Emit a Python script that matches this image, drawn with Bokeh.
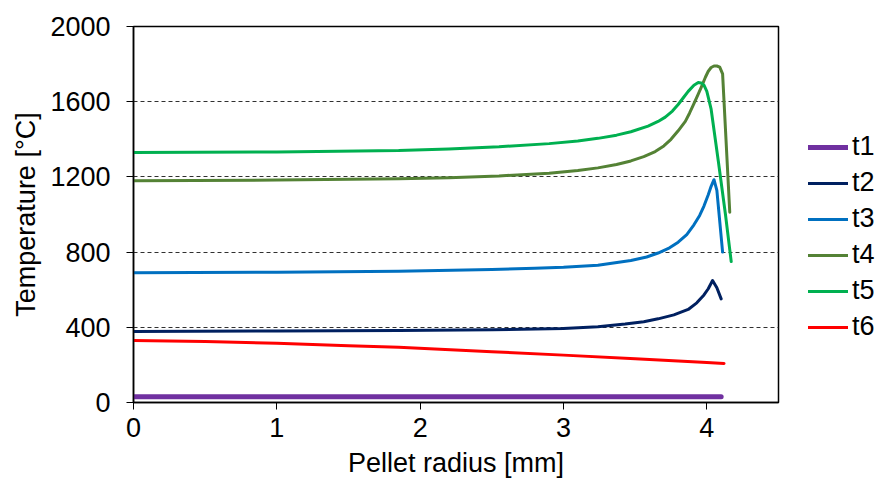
from bokeh.plotting import figure
from bokeh.models import Legend, LegendItem, FixedTicker, Range1d
from bokeh.embed import file_html
from bokeh.resources import INLINE

# ---- data ----
r_t1 = [0.0, 1.0, 2.0, 3.0, 4.0, 4.10]
T_t1 = [30, 30, 30, 30, 30, 30]

r_t2 = [0.0, 1.0, 1.85, 2.5, 3.0, 3.24, 3.43, 3.56, 3.66, 3.77, 3.87, 3.93, 3.98, 4.01, 4.04, 4.07, 4.10]
T_t2 = [378, 380, 383, 387, 394, 403, 417, 430, 445, 466, 495, 530, 572, 605, 649, 610, 551]

r_t3 = [0.0, 1.0, 1.85, 2.5, 2.8, 3.0, 3.24, 3.47, 3.58, 3.66, 3.74, 3.80, 3.86, 3.91, 3.95, 3.98, 4.01, 4.03, 4.05, 4.07, 4.11]
T_t3 = [690, 693, 698, 708, 714, 719, 730, 755, 774, 795, 823, 853, 893, 945, 995, 1045, 1105, 1150, 1185, 1128, 800]

r_t4 = [0.0, 1.0, 1.85, 2.2, 2.55, 2.9, 3.1, 3.24, 3.37, 3.47, 3.56, 3.64, 3.70, 3.75, 3.80, 3.85, 3.88, 3.91, 3.94, 3.96, 3.99, 4.01, 4.03, 4.05, 4.07, 4.09, 4.11, 4.16]
T_t4 = [1180, 1183, 1190, 1196, 1205, 1220, 1234, 1248, 1266, 1285, 1308, 1335, 1365, 1400, 1445, 1495, 1540, 1590, 1640, 1675, 1730, 1762, 1782, 1790, 1790, 1784, 1748, 1012]

r_t5 = [0.0, 1.0, 1.85, 2.2, 2.55, 2.9, 3.1, 3.24, 3.37, 3.47, 3.59, 3.66, 3.71, 3.76, 3.80, 3.84, 3.87, 3.91, 3.94, 3.96, 3.98, 4.00, 4.03, 4.08, 4.13, 4.17]
T_t5 = [1330, 1333, 1340, 1349, 1360, 1377, 1391, 1405, 1422, 1440, 1470, 1495, 1518, 1550, 1585, 1625, 1655, 1688, 1702, 1700, 1688, 1655, 1560, 1285, 1000, 750]

r_t6 = [0.0, 0.5, 1.0, 1.5, 1.85, 2.5, 3.0, 3.5, 4.0, 4.12]
T_t6 = [330, 325, 315, 302, 294, 270, 252, 233, 213, 208]

series_names = ["t1", "t2", "t3", "t4", "t5", "t6"]
x_ticks = [0, 1, 2, 3, 4]
y_ticks = [0, 400, 800, 1200, 1600, 2000]

colors = ["#7030A0", "#002060", "#0070C0", "#548235", "#00B050", "#FF0000"]
widths = [5, 3, 3, 3, 3, 3]

FONT = "Liberation Sans"
FS = "27px"

p = figure(frame_width=645, frame_height=376, output_backend="svg", toolbar_location=None,
           x_range=Range1d(0, 4.5), y_range=Range1d(0, 2000),
           min_border_left=133, min_border_right=105, min_border_top=26, min_border_bottom=92)

p.background_fill_color = "white"
p.border_fill_color = "white"
p.outline_line_color = "black"
p.outline_line_width = 1.5

data = [(r_t1, T_t1), (r_t2, T_t2), (r_t3, T_t3), (r_t4, T_t4), (r_t5, T_t5), (r_t6, T_t6)]
renderers = []
for (xs, ys), c, w in zip(data, colors, widths):
    rr = p.line(xs, ys, line_color=c, line_width=w, line_join="round", line_cap="round")
    renderers.append(rr)

# axes
p.xaxis.ticker = FixedTicker(ticks=x_ticks)
p.yaxis.ticker = FixedTicker(ticks=y_ticks)
p.xaxis.axis_label = "Pellet radius [mm]"
p.yaxis.axis_label = "Temperature [°C]"
for ax in (p.xaxis[0], p.yaxis[0]):
    ax.axis_label_text_font = FONT
    ax.axis_label_text_font_size = FS
    ax.axis_label_text_font_style = "normal"
    ax.axis_label_text_color = "black"
    ax.major_label_text_font = FONT
    ax.major_label_text_font_size = FS
    ax.major_label_text_color = "black"
    ax.axis_line_color = "black"
    ax.axis_line_width = 1.5
    ax.major_tick_line_color = "black"
    ax.major_tick_in = 0
    ax.major_tick_out = 7
    ax.minor_tick_line_color = None
p.xaxis.major_label_standoff = 8
p.yaxis.major_label_standoff = 16
p.xaxis.axis_label_standoff = 8
p.yaxis.axis_label_standoff = 6

p.xgrid.grid_line_color = None
p.ygrid.ticker = FixedTicker(ticks=[400, 800, 1200, 1600])
p.ygrid.grid_line_color = "#303030"
p.ygrid.grid_line_dash = "4 3"
p.ygrid.grid_line_width = 1

legend = Legend(items=[LegendItem(label=n, renderers=[r]) for n, r in zip(series_names, renderers)],
                location=(30, 60), ncols=1)
legend.label_text_font = FONT
legend.label_text_font_size = FS
legend.label_text_color = "black"
legend.glyph_width = 40
legend.glyph_height = 20
legend.label_height = 20
legend.label_standoff = 4
legend.spacing = 5
legend.padding = 0
legend.margin = 0
legend.background_fill_alpha = 0
legend.border_line_alpha = 0
p.add_layout(legend, "right")

open("out.html", "w").write(file_html(p, INLINE))
